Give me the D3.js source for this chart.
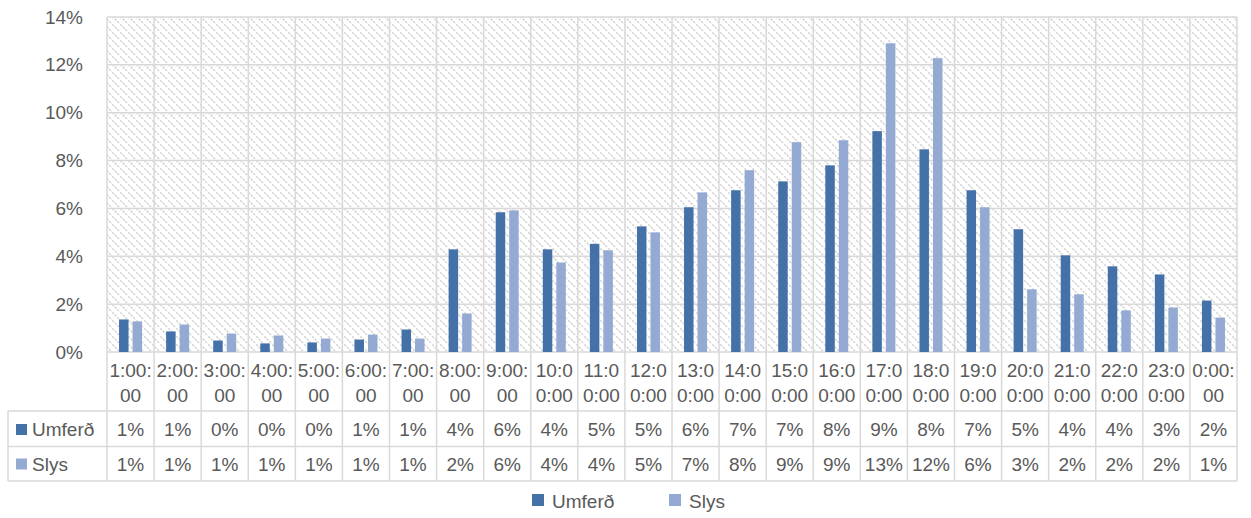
<!DOCTYPE html>
<html>
<head>
<meta charset="utf-8">
<script src="https://cdn.jsdelivr.net/npm/d3@7"></script>
<style>
  html, body { margin: 0; padding: 0; background: #fff; }
  svg { display: block; font-family: "Liberation Sans", Arial, sans-serif; }
</style>
</head>
<body>
<svg id="chart" width="1251" height="518"></svg>
<script>
// Hour of day
const categories = ["1:00:00","2:00:00","3:00:00","4:00:00","5:00:00","6:00:00","7:00:00","8:00:00",
  "9:00:00","10:00:00","11:00:00","12:00:00","13:00:00","14:00:00","15:00:00","16:00:00",
  "17:00:00","18:00:00","19:00:00","20:00:00","21:00:00","22:00:00","23:00:00","0:00:00"];
// Share of traffic per hour (%)
const umferd = [1.36,0.86,0.48,0.36,0.40,0.52,0.94,4.29,5.84,4.29,4.52,5.25,6.05,6.76,7.13,7.80,
  9.23,8.47,6.76,5.13,4.04,3.58,3.24,2.15];
// Share of accidents per hour (%)
const slys = [1.28,1.15,0.77,0.69,0.56,0.73,0.56,1.61,5.92,3.74,4.25,5.00,6.67,7.60,8.77,8.85,
  12.90,12.28,6.05,2.62,2.41,1.74,1.86,1.44];
const seriesNames = ["Umferð","Slys"];
const yTicks = [0,2,4,6,8,10,12,14];

const colors = ["#4472a8", "#95aad3"];
const textColor = "#595959";
const gridColor = "#d9d9d9";
const fontSize = "19px";

const svg = d3.select("#chart");
const plot = { left: 107, right: 1237, top: 17, bottom: 352 };
const table = { left: 8, catBottom: 411, row1Bottom: 446.5, row2Bottom: 481 };

const x = d3.scaleBand().domain(categories).range([plot.left, plot.right]);
const y = d3.scaleLinear().domain([0, 14]).range([plot.bottom, plot.top]);

// Hatched plot background
const defs = svg.append("defs");
const pat = defs.append("pattern")
  .attr("id", "hatch").attr("patternUnits", "userSpaceOnUse")
  .attr("width", 8).attr("height", 8);
pat.append("rect").attr("width", 8).attr("height", 8).attr("fill", "#fff");
pat.append("path").attr("d", "M-2,-2 L10,10 M-2,6 L2,10 M6,-2 L10,2")
  .attr("stroke", "#d4d4d4").attr("stroke-width", 1.6).attr("stroke-dasharray", "2.2,1.2");

svg.append("rect")
  .attr("x", plot.left).attr("y", plot.top)
  .attr("width", plot.right - plot.left).attr("height", plot.bottom - plot.top)
  .attr("fill", "url(#hatch)");

// Horizontal gridlines
svg.append("g").selectAll("line").data(yTicks).join("line")
  .attr("x1", plot.left).attr("x2", plot.right)
  .attr("y1", d => y(d)).attr("y2", d => y(d))
  .attr("stroke", gridColor).attr("stroke-width", 1.5);

// Vertical category separators through plot and data table
const bounds = categories.map(c => x(c)).concat([plot.right]);
svg.append("g").selectAll("line").data(bounds).join("line")
  .attr("x1", d => d).attr("x2", d => d)
  .attr("y1", plot.top).attr("y2", table.row2Bottom)
  .attr("stroke", gridColor).attr("stroke-width", 1.5);

// Table horizontal rules
[table.catBottom, table.row1Bottom, table.row2Bottom].forEach(yy => {
  svg.append("line").attr("x1", table.left).attr("x2", plot.right)
    .attr("y1", yy).attr("y2", yy).attr("stroke", gridColor).attr("stroke-width", 1.5);
});
svg.append("line").attr("x1", table.left).attr("x2", table.left)
  .attr("y1", table.catBottom).attr("y2", table.row2Bottom)
  .attr("stroke", gridColor).attr("stroke-width", 1.5);

// Y axis labels
const yAxis = d3.axisLeft(y).tickValues(yTicks).tickFormat(d => d + "%").tickSize(0).tickPadding(0);
const ya = svg.append("g").attr("transform", `translate(83,0)`).call(yAxis);
ya.select(".domain").remove();
ya.selectAll("text").attr("fill", textColor).style("font-size", fontSize)
  .style("font-family", "'Liberation Sans', Arial, sans-serif");

// Bars
const bw = 9.5, gap = 4;
const series = [umferd, slys];
series.forEach((vals, si) => {
  svg.append("g").selectAll("rect").data(vals).join("rect")
    .attr("x", (d, i) => x(categories[i]) + x.bandwidth() / 2 + (si === 0 ? -gap / 2 - bw : gap / 2))
    .attr("width", bw)
    .attr("y", d => y(d))
    .attr("height", d => y(0) - y(d))
    .attr("fill", colors[si]);
});

// Category labels, wrapped to the cell width
const catG = svg.append("g");
const wrapWidth = 45;
categories.forEach(c => {
  const cx = x(c) + x.bandwidth() / 2;
  const t = catG.append("text").attr("x", cx).attr("text-anchor", "middle")
    .attr("fill", textColor).style("font-size", fontSize);
  const probe = t.append("tspan");
  let line1 = "";
  for (let k = 1; k <= c.length; k++) {
    probe.text(c.slice(0, k));
    if (probe.node().getComputedTextLength() <= wrapWidth) line1 = c.slice(0, k);
    else break;
  }
  probe.remove();
  t.append("tspan").attr("x", cx).attr("y", 377).text(line1);
  t.append("tspan").attr("x", cx).attr("y", 402).text(c.slice(line1.length));
});

// Data table rows
const rowY = [436, 470.5];
series.forEach((vals, si) => {
  svg.append("rect").attr("x", 16).attr("y", rowY[si] - 12).attr("width", 11).attr("height", 11)
    .attr("fill", colors[si]);
  svg.append("text").attr("x", 32).attr("y", rowY[si]).attr("fill", textColor)
    .style("font-size", fontSize).text(seriesNames[si]);
  svg.append("g").selectAll("text").data(vals).join("text")
    .attr("x", (d, i) => x(categories[i]) + x.bandwidth() / 2)
    .attr("y", rowY[si]).attr("text-anchor", "middle")
    .attr("fill", textColor).style("font-size", fontSize)
    .text(d => Math.round(d) + "%");
});

// Legend
const legendX = [532, 669];
seriesNames.forEach((n, i) => {
  svg.append("rect").attr("x", legendX[i]).attr("y", 494).attr("width", 12).attr("height", 12)
    .attr("fill", colors[i]);
  svg.append("text").attr("x", legendX[i] + 20).attr("y", 507.5).attr("fill", textColor)
    .style("font-size", fontSize).text(n);
});
</script>
</body>
</html>
